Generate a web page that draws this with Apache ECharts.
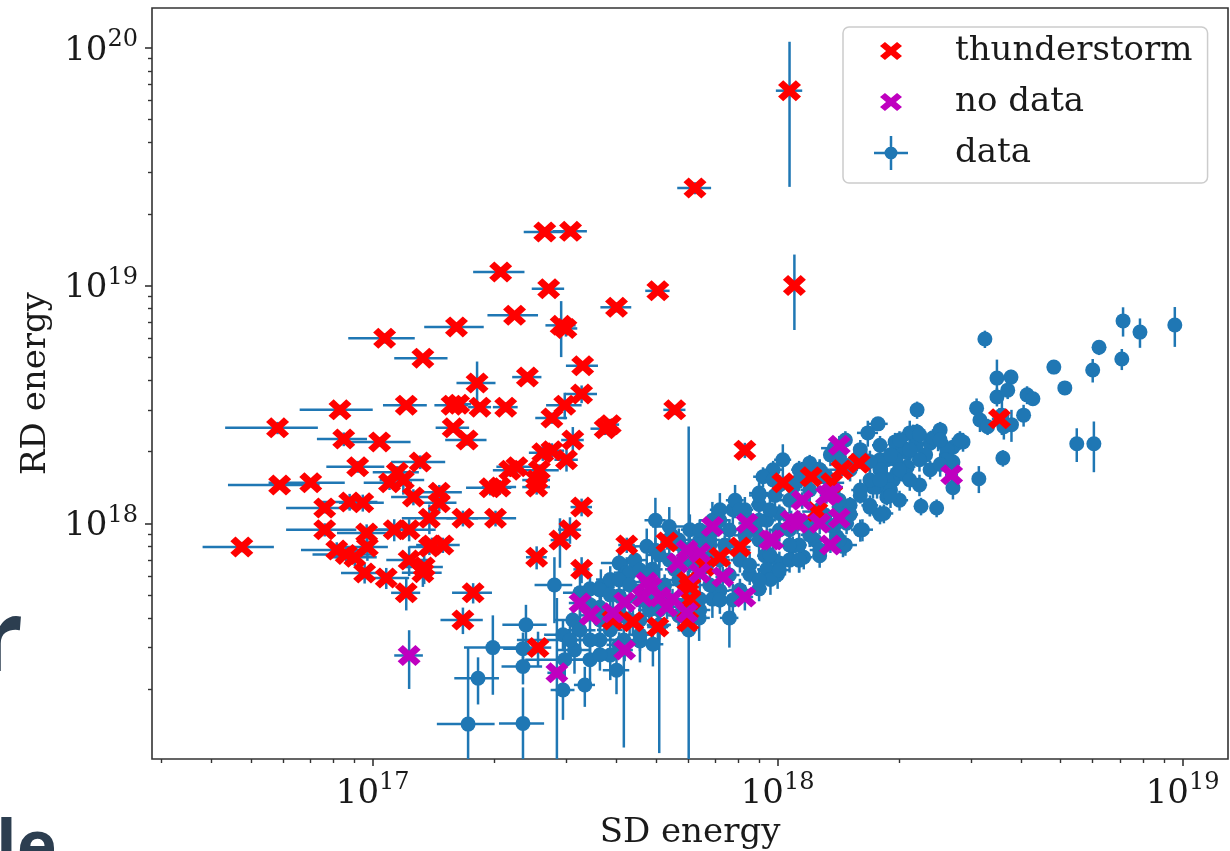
<!DOCTYPE html>
<html>
<head>
<meta charset="utf-8">
<script src="https://cdn.jsdelivr.net/npm/echarts@6/dist/echarts.min.js"></script>
<style>
html,body{margin:0;padding:0;background:#ffffff;}
#chart{width:1230px;height:851px;}
</style>
</head>
<body>
<div id="chart"></div>
<script>
// Each row: [SD energy, RD energy, SD error, RD error]
const thunderstorm = [
[1.07e18,6.6e19,0.08e18,4.0e19],[6.25e17,2.57e19,0.6e17,0.15e19],[1.10e18,1.0e19,0.03e18,0.35e19],
[2.66e17,1.68e19,0.3e17,0.08e19],[3.08e17,1.69e19,0.3e17,0.08e19],[2.07e17,1.14e19,0.3e17,0.05e19],
[2.72e17,9.7e18,0.25e17,0.4e18],[5.06e17,9.5e18,0.35e17,0.4e18],[4.0e17,8.1e18,0.35e17,0.4e18],
[2.24e17,7.5e18,0.32e17,0.3e18],[1.61e17,6.7e18,0.27e17,0.3e18],[2.92e17,6.8e18,0.25e17,1.8e18],
[3.0e17,6.6e18,0.2e17,0.5e18],[1.33e17,4.95e18,0.2e17,0.2e18],[1.07e17,6.0e18,0.2e17,0.3e18],
[3.3e17,4.6e18,0.3e17,0.2e18],[2.41e17,4.12e18,0.2e17,0.2e18],[1.81e17,3.89e18,0.2e17,0.9e18],
[3.28e17,3.5e18,0.3e17,0.3e18],[0.83e17,3.0e18,0.17e17,0.15e18],[1.21e17,3.14e18,0.15e17,0.15e18],
[1.57e17,3.14e18,0.15e17,0.15e18],[1.63e17,3.17e18,0.12e17,0.15e18],[1.84e17,3.08e18,0.12e17,0.15e18],
[2.13e17,3.08e18,0.15e17,0.15e18],[2.98e17,3.14e18,0.3e17,0.4e18],[2.77e17,2.77e18,0.25e17,0.15e18],
[3.75e17,2.5e18,0.3e17,0.15e18],[3.86e17,2.6e18,0.2e17,0.15e18],[5.57e17,3.0e18,0.35e17,0.15e18],
[8.3e17,2.03e18,0.2e17,0.15e18],[1.58e17,2.52e18,0.15e17,0.12e18],[1.71e17,2.24e18,0.2e17,0.12e18],
[0.582e17,2.52e18,0.15e17,0.15e18],[0.848e17,2.26e18,0.12e17,0.15e18],[1.04e17,2.2e18,0.2e17,0.1e18],
[1.31e17,1.81e18,0.2e17,0.12e18],[3.12e17,2.24e18,0.2e17,0.3e18],[2.63e17,1.98e18,0.2e17,0.15e18],
[2.77e17,2.02e18,0.2e17,0.15e18],[3.01e17,1.85e18,0.2e17,0.2e18],[2.27e17,1.73e18,0.25e17,0.1e18],
[2.18e17,1.67e18,0.2e17,0.1e18],[2.58e17,1.67e18,0.3e17,0.1e18],[2.54e17,1.52e18,0.2e17,0.1e18],
[1.95e17,1.41e18,0.25e17,0.1e18],[2.06e17,1.42e18,0.2e17,0.1e18],[2.54e17,1.42e18,0.2e17,0.1e18],
[1.46e17,1.35e18,0.2e17,0.1e18],[1.26e17,1.29e18,0.15e17,0.1e18],[1.46e17,1.22e18,0.15e17,0.1e18],
[3.28e17,1.17e18,0.2e17,0.1e18],[1.67e17,1.05e18,0.15e17,0.08e18],[2.01e17,1.05e18,0.25e17,0.08e18],
[1.38e17,1.05e18,0.2e17,0.15e18],[3.07e17,0.94e18,0.2e17,0.12e18],[2.9e17,0.85e18,0.15e17,0.2e18],
[1.49e17,0.81e18,0.15e17,0.06e18],[1.4e17,0.81e18,0.12e17,0.06e18],[4.24e17,0.81e18,0.2e17,0.06e18],
[1.23e17,0.94e18,0.2e17,0.1e18],[2.54e17,0.72e18,0.15e17,0.08e18],[3.28e17,0.64e18,0.15e17,0.08e18],
[1.23e17,0.7e18,0.15e17,0.1e18],[1.34e17,0.655e18,0.15e17,0.1e18],[0.703e17,1.48e18,0.15e17,0.06e18],
[0.589e17,1.45e18,0.15e17,0.06e18],[0.918e17,1.73e18,0.15e17,0.1e18],[1.15e17,1.64e18,0.15e17,0.1e18],
[1.10e17,1.48e18,0.15e17,0.1e18],[1.19e17,1.52e18,0.15e17,0.2e18],[0.761e17,1.16e18,0.15e17,0.06e18],
[0.877e17,1.23e18,0.15e17,0.1e18],[0.945e17,1.22e18,0.12e17,0.1e18],[0.761e17,0.94e18,0.15e17,0.06e18],
[0.966e17,0.91e18,0.15e17,0.08e18],[1.13e17,0.94e18,0.15e17,0.1e18],[0.475e17,0.795e18,0.095e17,0.04e18],
[0.815e17,0.772e18,0.15e17,0.06e18],[0.86e17,0.74e18,0.15e17,0.06e18],[0.903e17,0.72e18,0.12e17,0.06e18],
[0.97e17,0.795e18,0.12e17,0.1e18],[1.38e17,0.795e18,0.15e17,0.06e18],[0.955e17,0.618e18,0.12e17,0.06e18],
[1.08e17,0.589e18,0.15e17,0.06e18],[1.33e17,0.62e18,0.15e17,0.08e18],[1.21e17,0.51e18,0.1e17,0.08e18],
[1.77e17,0.51e18,0.2e17,0.05e18],[1.67e17,0.392e18,0.2e17,0.05e18],[2.56e17,0.30e18,0.2e17,0.05e18],
[5.33e17,0.835e18,0.2e17,0.06e18],[1.03e18,1.48e18,0.05e18,0.1e18],[8.07e17,0.795e18,0.5e17,0.08e18],
[7.2e17,0.72e18,0.4e17,0.08e18],[6.07e17,0.54e18,0.4e17,0.06e18],[4.39e17,0.385e18,0.3e17,0.05e18],
[3.92e17,0.392e18,0.3e17,0.05e18],[5.06e17,0.366e18,0.3e17,0.05e18],[6.0e17,0.385e18,0.3e17,0.05e18],
[6.07e17,0.476e18,0.3e17,0.05e18],[6.6e17,0.66e18,0.3e17,0.06e18],[6.0e17,0.57e18,0.3e17,0.06e18],
[1.21e18,1.57e18,0.1e18,0.1e18],[1.44e18,1.68e18,0.1e18,0.1e18],[1.36e18,1.48e18,0.1e18,0.1e18],
[1.59e18,1.79e18,0.1e18,0.1e18],[3.53e18,2.75e18,0.15e18,0.3e18],[1.25e18,1.12e18,0.1e18,0.1e18]
];

const noData = [
[1.23e17,2.78e17,0.1e17,0.77e17],[2.85e17,2.35e17,0.15e17,2.5e17],[4.19e17,2.93e17,0.2e17,0.3e17],
[3.25e17,4.62e17,0.2e17,0.5e17],[3.44e17,4.1e17,0.2e17,0.5e17],[4.19e17,4.66e17,0.2e17,0.5e17],
[3.92e17,4.2e17,0.2e17,0.5e17],[4.75e17,5.66e17,0.3e17,0.6e17],[5.12e17,4.9e17,0.3e17,0.6e17],
[5.67e17,6.81e17,0.3e17,0.6e17],[5.97e17,4.2e17,0.3e17,0.6e17],[5.97e17,7.72e17,0.3e17,0.6e17],
[6.42e17,6.18e17,0.3e17,0.6e17],[7.32e17,5.95e17,0.3e17,0.6e17],[8.3e17,4.9e17,0.4e17,0.6e17],
[8.4e17,1.0e18,0.4e17,0.1e18],[9.73e17,8.5e17,0.4e17,0.1e18],[1.08e18,1.03e18,0.05e18,0.1e18],
[5.33e17,4.45e17,0.3e17,0.5e17],[4.65e17,4.9e17,0.3e17,0.5e17],[6.42e17,7.5e17,0.3e17,0.6e17],
[1.42e18,2.13e18,0.05e18,0.2e18],[1.15e18,1.25e18,0.05e18,0.1e18],[1.32e18,1.31e18,0.05e18,0.1e18],
[1.36e18,1.34e18,0.05e18,0.1e18],[1.12e18,1.0e18,0.05e18,0.1e18],[1.27e18,1.0e18,0.05e18,0.1e18],
[1.42e18,1.05e18,0.05e18,0.1e18],[9.57e17,8.5e17,0.4e17,0.1e18],[1.35e18,8.1e17,0.05e18,0.06e18],
[2.69e18,1.6e18,0.1e18,0.15e18],[6.9e17,9.7e17,0.3e17,0.1e18],[4.87e17,5.4e17,0.3e17,0.5e17],
[5.5e17,4.8e17,0.3e17,0.5e17]
];

const dataPoints = [
[3.25e18,5.96e18,0.1e18,0.5e18],[7.13e18,7.1e18,0.2e18,1.0e18],[7.85e18,6.37e18,0.2e18,0.9e18],
[9.57e18,6.82e18,0.2e18,1.3e18],[6.22e18,5.5e18,0.15e18,0.4e18],[7.08e18,4.91e18,0.15e18,0.5e18],
[6.0e18,4.41e18,0.15e18,0.5e18],[4.81e18,4.54e18,0.15e18,0.3e18],[5.12e18,3.71e18,0.15e18,0.15e18],
[5.48e18,2.16e18,0.1e18,0.35e18],[6.04e18,2.16e18,0.1e18,0.52e18],[3.6e18,1.88e18,0.1e18,0.15e18],
[3.14e18,1.54e18,0.1e18,0.2e18],[2.71e18,1.41e18,0.1e18,0.15e18],[2.26e18,1.18e18,0.08e18,0.1e18],
[2.47e18,1.16e18,0.08e18,0.1e18],[3.48e18,4.08e18,0.1e18,0.8e18],[3.77e18,4.12e18,0.1e18,0.3e18],
[3.48e18,3.4e18,0.1e18,0.3e18],[3.7e18,3.63e18,0.1e18,0.3e18],[4.13e18,3.47e18,0.1e18,0.3e18],
[4.27e18,3.34e18,0.1e18,0.2e18],[4.05e18,2.85e18,0.1e18,0.3e18],[3.1e18,3.05e18,0.1e18,0.3e18],
[3.16e18,2.72e18,0.1e18,0.3e18],[3.58e18,2.85e18,0.1e18,0.5e18],[3.62e18,2.55e18,0.1e18,0.3e18],
[3.78e18,2.6e18,0.1e18,0.4e18],[3.3e18,2.55e18,0.1e18,0.2e18],[2.21e18,3.0e18,0.08e18,0.25e18],
[1.77e18,2.62e18,0.1e18,0.15e18],[1.38e18,2.07e18,0.1e18,0.2e18],[2.49e18,2.31e18,0.08e18,0.3e18],
[2.87e18,2.2e18,0.1e18,0.2e18],[2.71e18,2.09e18,0.1e18,0.2e18],[2.38e18,2.17e18,0.1e18,0.2e18],
[2.71e18,1.81e18,0.1e18,0.2e18],[2.62e18,1.98e18,0.1e18,0.2e18],[2.12e18,2.4e18,0.1e18,0.3e18],
[2.0e18,2.17e18,0.1e18,0.2e18],[2.21e18,2.42e18,0.1e18,0.2e18],[2.09e18,1.98e18,0.1e18,0.2e18],
[1.86e18,1.85e18,0.1e18,0.2e18],[1.93e18,1.52e18,0.1e18,0.15e18],[1.76e18,1.42e18,0.1e18,0.15e18],
[1.83e18,1.1e18,0.1e18,0.1e18],[1.62e18,0.94e18,0.1e18,0.1e18],[1.47e18,0.81e18,0.1e18,0.08e18],
[1.42e18,1.1e18,0.1e18,0.1e18],[1.35e18,1.42e18,0.1e18,0.15e18],[1.97e18,1.62e18,0.1e18,0.15e18],
[2.09e18,1.73e18,0.1e18,0.15e18],[1.67e18,2.4e18,0.1e18,0.3e18],[2.16e18,2.4e18,0.1e18,0.2e18],
[2.03e18,2.09e18,0.1e18,0.2e18],[2.42e18,2.29e18,0.1e18,0.2e18],[2.82e18,2.24e18,0.1e18,0.2e18],
[2.62e18,2.04e18,0.1e18,0.2e18],[9.75e17,1.68e18,0.5e17,0.15e18],[1.03e18,1.85e18,0.05e18,0.3e18],
[1.2e18,1.79e18,0.06e18,0.15e18],[1.42e18,1.9e18,0.06e18,0.15e18],[1.49e18,1.73e18,0.06e18,0.15e18],
[1.79e18,1.85e18,0.06e18,0.15e18],[1.86e18,1.52e18,0.06e18,0.15e18],[1.72e18,1.42e18,0.06e18,0.15e18],
[1.86e18,1.29e18,0.06e18,0.1e18],[1.69e18,1.17e18,0.06e18,0.1e18],[1.42e18,1.17e18,0.06e18,0.1e18],
[1.48e18,1.0e18,0.06e18,0.1e18],[1.4e18,0.88e18,0.06e18,0.08e18],[1.45e18,0.8e18,0.06e18,0.08e18],
[1.16e18,0.72e18,0.06e18,0.08e18],[1.09e18,0.8e18,0.06e18,0.08e18],[1.01e18,0.68e18,0.06e18,0.08e18],
[9.4e17,0.64e18,0.5e17,0.08e18],[1.2e18,0.96e18,0.06e18,0.1e18],[1.01e18,1.1e18,0.06e18,0.1e18],
[9.4e17,1.03e18,0.5e17,0.1e18],[9.2e17,1.57e18,0.5e17,0.15e18],[1.09e18,1.42e18,0.06e18,0.15e18],
[1.32e18,1.57e18,0.06e18,0.15e18],[1.6e18,2.04e18,0.06e18,0.2e18],[1.95e18,2.2e18,0.06e18,0.2e18],
[9.75e17,1.52e18,0.5e17,0.15e18],[9.0e17,1.34e18,0.5e17,0.15e18],[7.75e17,1.14e18,0.5e17,0.15e18],
[6.9e17,1.03e18,0.5e17,0.2e18],[5.4e17,0.97e18,0.5e17,0.2e18],[4.75e17,0.8e18,0.4e17,0.15e18],
[4.06e17,0.68e18,0.4e17,0.1e18],[3.25e17,0.51e18,0.3e17,0.1e18],[3.66e17,0.54e18,0.3e17,0.1e18],
[4.24e17,0.62e18,0.3e17,0.1e18],[4.9e17,0.64e18,0.3e17,0.1e18],[5.7e17,0.82e18,0.4e17,0.1e18],
[6.6e17,0.82e18,0.4e17,0.1e18],[6.9e17,0.72e18,0.4e17,0.1e18],[6.9e17,0.48e18,0.4e17,0.08e18],
[7.6e17,0.4e18,0.4e17,0.1e18],[6.4e17,0.4e18,0.4e17,0.08e18],[6.03e17,0.356e18,0.3e17,2.2e18],
[5.1e17,4.32e17,0.3e17,3.24e17],[4.17e17,3.23e17,0.3e17,2.09e17],[1.72e17,1.43e17,0.28e17,1.57e17],
[2.35e17,1.44e17,0.3e17,0.6e17],[1.82e17,2.23e17,0.23e17,0.5e17],[1.98e17,3.0e17,0.3e17,1.1e17],
[2.39e17,3.74e17,0.3e17,0.8e17],[2.35e17,2.97e17,0.25e17,0.5e17],[2.35e17,2.5e17,0.27e17,0.4e17],
[2.81e17,5.5e17,0.3e17,1.7e17],[2.95e17,1.99e17,0.2e17,0.5e17],[3.34e17,2.09e17,0.2e17,0.4e17],
[4.0e17,2.41e17,0.3e17,0.5e17],[2.95e17,3.4e17,0.3e17,0.5e17],[3.64e17,3.23e17,0.3e17,0.5e17],
[4.92e17,3.1e17,0.3e17,0.6e17],[7.75e17,4.76e17,0.4e17,0.8e17],[5.97e17,4.6e17,0.3e17,0.5e17],
[4.31e17,6.18e17,0.3e17,0.8e17],[3.12e17,3.92e17,0.3e17,0.5e17],[3.64e17,4.43e17,0.3e17,0.5e17],
[4.06e17,4.95e17,0.3e17,0.5e17],[4.57e17,3.92e17,0.3e17,0.5e17],[4.82e17,4.76e17,0.3e17,0.5e17],
[5.26e17,5.5e17,0.3e17,0.6e17],[5.57e17,6.4e17,0.3e17,0.6e17],[6.07e17,7.0e17,0.4e17,0.8e17],
[6.42e17,8.5e17,0.4e17,1.0e17],[7.0e17,9.4e17,0.4e17,1.0e17],[7.4e17,8.1e17,0.4e17,0.8e17],
[8.07e17,7.0e17,0.4e17,0.8e17],[8.53e17,6.1e17,0.4e17,0.6e17],[9.0e17,5.3e17,0.4e17,0.6e17],
[9.3e17,7.3e17,0.4e17,0.8e17],[8.8e17,9.4e17,0.4e17,1.0e17],[8.3e17,1.14e18,0.4e17,0.15e18],
[9.0e17,1.2e18,0.4e17,0.15e18],[1.07e18,0.94e18,0.05e18,0.1e18],[1.13e18,0.81e18,0.05e18,0.1e18],
[1.235e18,0.85e18,0.05e18,0.1e18],[1.31e18,1.08e18,0.05e18,0.1e18],[1.38e18,0.98e18,0.05e18,0.1e18],
[1.51e18,1.19e18,0.05e18,0.1e18],[1.6e18,1.31e18,0.05e18,0.1e18],[1.69e18,1.52e18,0.05e18,0.15e18],
[1.79e18,1.68e18,0.05e18,0.15e18],[1.9e18,1.38e18,0.05e18,0.15e18],[1.96e18,1.85e18,0.05e18,0.15e18],
[2.07e18,1.6e18,0.05e18,0.15e18],[2.2e18,2.13e18,0.05e18,0.2e18],[2.32e18,1.94e18,0.05e18,0.2e18],
[2.38e18,1.68e18,0.05e18,0.15e18],[2.52e18,2.47e18,0.08e18,0.2e18],[2.6e18,1.85e18,0.08e18,0.2e18],
[1.27e18,1.68e18,0.05e18,0.15e18],[1.35e18,1.94e18,0.05e18,0.2e18],[1.47e18,2.24e18,0.05e18,0.2e18],
[1.13e18,1.68e18,0.05e18,0.15e18],[9.85e17,1.31e18,0.5e17,0.15e18],[9.0e17,1.03e18,0.5e17,0.1e18],
[8.3e17,0.89e18,0.5e17,0.1e18],[6.8e17,0.81e18,0.4e17,0.1e18],[6.6e17,0.67e18,0.4e17,0.1e18],
[7.2e17,0.52e18,0.4e17,0.08e18],[6.42e17,0.48e18,0.4e17,0.08e18],[5.7e17,0.41e18,0.3e17,0.06e18],
[5.1e17,0.37e18,0.3e17,0.06e18],[4.57e17,0.32e18,0.3e17,0.06e18],[3.86e17,0.279e18,0.3e17,0.06e18],
[3.44e17,0.267e18,0.3e17,0.06e18],[3.15e17,0.293e18,0.3e17,0.06e18],[3.25e17,0.355e18,0.3e17,0.06e18],
[3.44e17,0.53e18,0.3e17,0.08e18],[3.86e17,0.58e18,0.3e17,0.08e18],[4.44e17,0.7e18,0.3e17,0.1e18],
[4.99e17,0.77e18,0.3e17,0.1e18],[5.47e17,0.89e18,0.3e17,0.1e18],[6.07e17,0.94e18,0.3e17,0.15e18],
[4.99e17,1.03e18,0.3e17,0.25e18],[7.85e17,1.25e18,0.4e17,0.2e18],[7.2e17,1.14e18,0.4e17,0.2e18],
[1.0e18,0.61e18,0.05e18,0.08e18],[1.07e18,0.7e18,0.05e18,0.08e18],[9.6e17,0.58e18,0.4e17,0.08e18],
[1.13e18,0.7e18,0.05e18,0.08e18],[1.27e18,0.73e18,0.05e18,0.08e18],[3.07e17,3.23e17,0.8e17,0.5e17],
[2.98e17,2.67e17,0.6e17,0.5e17],
[3.64e17,0.524e18,0.25e17,0.06e18],[3.64e17,0.392e18,0.25e17,0.05e18],[3.64e17,0.28e18,0.25e17,0.04e18],
[4.06e17,0.577e18,0.28e17,0.07e18],[4.06e17,0.42e18,0.28e17,0.05e18],[4.06e17,0.308e18,0.28e17,0.04e18],
[4.57e17,0.636e18,0.3e17,0.07e18],[4.57e17,0.476e18,0.3e17,0.06e18],[4.57e17,0.34e18,0.3e17,0.05e18],
[5.1e17,0.736e18,0.35e17,0.08e18],[5.1e17,0.524e18,0.35e17,0.06e18],[5.1e17,0.374e18,0.35e17,0.05e18],
[5.7e17,0.851e18,0.4e17,0.1e18],[5.7e17,0.577e18,0.4e17,0.07e18],[5.7e17,0.41e18,0.4e17,0.05e18],
[6.42e17,0.937e18,0.4e17,0.1e18],[6.42e17,0.636e18,0.4e17,0.07e18],[6.42e17,0.432e18,0.4e17,0.05e18],
[7.2e17,1.03e18,0.45e17,0.12e18],[7.2e17,0.701e18,0.45e17,0.08e18],[7.2e17,0.476e18,0.45e17,0.06e18],
[8.07e17,1.14e18,0.5e17,0.12e18],[8.07e17,0.772e18,0.5e17,0.08e18],[8.07e17,0.524e18,0.5e17,0.06e18],
[9.0e17,1.31e18,0.5e17,0.15e18],[9.0e17,0.851e18,0.5e17,0.1e18],[9.0e17,0.577e18,0.5e17,0.07e18],
[1.01e18,1.45e18,0.06e18,0.15e18],[1.01e18,0.937e18,0.06e18,0.1e18],[1.01e18,0.636e18,0.06e18,0.07e18],
[1.13e18,1.52e18,0.06e18,0.15e18],[1.13e18,1.03e18,0.06e18,0.1e18],[1.13e18,0.701e18,0.06e18,0.08e18],
[1.27e18,1.68e18,0.07e18,0.18e18],[1.27e18,1.14e18,0.07e18,0.12e18],[1.27e18,0.772e18,0.07e18,0.08e18],
[1.42e18,1.85e18,0.07e18,0.2e18],[1.42e18,1.25e18,0.07e18,0.12e18],[1.42e18,0.851e18,0.07e18,0.1e18],
[1.6e18,1.94e18,0.08e18,0.2e18],[1.6e18,1.38e18,0.08e18,0.15e18],[1.6e18,0.937e18,0.08e18,0.1e18],
[1.79e18,2.13e18,0.08e18,0.2e18],[1.79e18,1.52e18,0.08e18,0.15e18],[1.79e18,1.09e18,0.08e18,0.1e18],
[2.0e18,2.24e18,0.1e18,0.2e18],[2.0e18,1.68e18,0.1e18,0.15e18],[2.0e18,1.25e18,0.1e18,0.12e18],
[2.24e18,2.36e18,0.1e18,0.2e18],[2.24e18,1.85e18,0.1e18,0.2e18],[2.24e18,1.45e18,0.1e18,0.15e18],
[2.52e18,2.24e18,0.1e18,0.2e18],[2.52e18,1.77e18,0.1e18,0.2e18],
[3.44e17,0.454e18,0.25e17,0.05e18],[3.44e17,0.323e18,0.25e17,0.04e18],[3.86e17,0.5e18,0.28e17,0.06e18],
[3.86e17,0.356e18,0.28e17,0.05e18],[4.31e17,0.55e18,0.3e17,0.06e18],[4.31e17,0.392e18,0.3e17,0.05e18],
[4.82e17,0.606e18,0.3e17,0.07e18],[4.82e17,0.432e18,0.3e17,0.05e18],[5.4e17,0.701e18,0.35e17,0.08e18],
[5.4e17,0.476e18,0.35e17,0.06e18],[6.07e17,0.772e18,0.4e17,0.08e18],[6.07e17,0.5e18,0.4e17,0.06e18],
[6.8e17,0.851e18,0.4e17,0.1e18],[6.8e17,0.55e18,0.4e17,0.06e18],[7.6e17,0.937e18,0.45e17,0.1e18],
[7.6e17,0.606e18,0.45e17,0.07e18],[8.53e17,1.03e18,0.5e17,0.12e18],[8.53e17,0.668e18,0.5e17,0.08e18],
[9.57e17,1.14e18,0.5e17,0.12e18],[9.57e17,0.736e18,0.5e17,0.08e18],[1.07e18,1.25e18,0.06e18,0.15e18],
[1.07e18,0.81e18,0.06e18,0.1e18],[1.2e18,1.38e18,0.06e18,0.15e18],[1.2e18,0.894e18,0.06e18,0.1e18],
[1.35e18,1.52e18,0.07e18,0.15e18],[1.35e18,0.98e18,0.07e18,0.1e18],[1.51e18,1.68e18,0.07e18,0.18e18],
[1.51e18,1.09e18,0.07e18,0.12e18],[1.69e18,1.82e18,0.08e18,0.2e18],[1.69e18,1.19e18,0.08e18,0.12e18],
[1.9e18,1.94e18,0.08e18,0.2e18],[1.9e18,1.31e18,0.08e18,0.15e18],[2.12e18,2.04e18,0.1e18,0.2e18],
[2.12e18,1.52e18,0.1e18,0.15e18]
];

// axis ranges (energies) and decade tick exponents
const xRange = [2.85e16, 1.295e19];
const yRange = [1.02e17, 1.47e20];
const xTickExponents = [17, 18, 19];
const yTickExponents = [18, 19, 20];
const minorMantissas = [2, 3, 4, 5, 6, 7, 8, 9];

const L = Math.log10;
const xMin = L(xRange[0]), xMax = L(xRange[1]);
const yMin = L(yRange[0]), yMax = L(yRange[1]);

function minorTicks(lo, hi) {
  const out = [];
  for (let d = Math.floor(lo) - 1; d <= Math.ceil(hi); d++) {
    minorMantissas.forEach(m => { const v = d + L(m); if (v > lo && v < hi) out.push(v); });
  }
  return out;
}

function toLog(p) { return [L(p[0]), L(p[1])]; }
function toBars(p) {
  const lo = (v, e, fallback) => (v - e > 0 ? L(v - e) : fallback);
  return [L(p[0]), L(p[1]), lo(p[0], p[2], xMin - 1), L(p[0] + p[2]), lo(p[1], p[3], yMin - 1), L(p[1] + p[3])];
}

const BLUE = '#1f77b4', RED = '#ff0000', MAG = '#bf00bf';
const SERIF = 'DejaVu Serif';
const TXT = '#1a1a1a';

// thick "x" marker polygon in a 20x20 box
const xPoly = [[4.5,0],[10,5.5],[15.5,0],[20,4.5],[14.5,10],[20,15.5],[15.5,20],[10,14.5],[4.5,20],[0,15.5],[5.5,10],[0,4.5]];
function polyPath(pts, sx, sy, ox, oy) {
  return pts.map((q, i) => (i ? 'L' : 'M') + (ox + q[0] * sx).toFixed(2) + ',' + (oy + q[1] * sy).toFixed(2)).join(' ') + ' Z';
}
const xSymbol = 'path://' + polyPath(xPoly, 1, 1, 0, 0);
const pad34 = 'M0,0 L0.01,0 L0,0.01 Z M34,34 L33.99,34 L34,33.99 Z ';
const xLegendIcon = 'path://' + pad34 + polyPath(xPoly, 1.1, 0.9, 6, 8);
const dataLegendIcon = 'path://M0,15.75 L34,15.75 L34,18.25 L0,18.25 Z M15.75,0 L18.25,0 L18.25,34 L15.75,34 Z M23.5,17 A6.5,6.5 0 1,1 10.5,17 A6.5,6.5 0 1,1 23.5,17 Z';

const allPoints = dataPoints.concat(thunderstorm, noData);

const supRich = {
  b: { fontFamily: SERIF, fontSize: 34, lineHeight: 40, verticalAlign: 'bottom', color: TXT },
  s: { fontFamily: SERIF, fontSize: 24, lineHeight: 26, verticalAlign: 'top', color: TXT }
};
const expFmt = v => '{b|10}{s|' + Math.round(v) + '}';

const axisCommon = { type: 'value', splitLine: { show: false }, axisLine: { show: false } };

const chart = echarts.init(document.getElementById('chart'), null, { renderer: 'canvas' });
chart.setOption({
  animation: false,
  backgroundColor: '#ffffff',
  grid: { left: 152, top: 8, width: 1076, height: 751, show: true, borderColor: '#333333', borderWidth: 1.6, backgroundColor: 'transparent', containLabel: false, outerBoundsMode: 'none' },
  xAxis: [
    Object.assign({}, axisCommon, {
      min: xMin, max: xMax, position: 'bottom',
      axisTick: { show: true, customValues: xTickExponents, length: 7, lineStyle: { color: '#333', width: 1.6 } },
      axisLabel: { show: true, customValues: xTickExponents, formatter: expFmt, rich: supRich, margin: 12 },
      name: 'SD energy', nameLocation: 'middle', nameGap: 50,
      nameTextStyle: { fontFamily: SERIF, fontSize: 34, color: TXT }
    }),
    Object.assign({}, axisCommon, {
      min: xMin, max: xMax, position: 'bottom',
      axisTick: { show: true, customValues: minorTicks(xMin, xMax), length: 4, lineStyle: { color: '#333', width: 1.4 } },
      axisLabel: { show: false }
    })
  ],
  yAxis: [
    Object.assign({}, axisCommon, {
      min: yMin, max: yMax, position: 'left',
      axisTick: { show: true, customValues: yTickExponents, length: 7, lineStyle: { color: '#333', width: 1.6 } },
      axisLabel: { show: true, customValues: yTickExponents, formatter: expFmt, rich: supRich, margin: 14 },
      name: 'RD energy', nameLocation: 'middle', nameGap: 87, nameRotate: 90,
      nameTextStyle: { fontFamily: SERIF, fontSize: 34, color: TXT }
    }),
    Object.assign({}, axisCommon, {
      min: yMin, max: yMax, position: 'left',
      axisTick: { show: true, customValues: minorTicks(yMin, yMax), length: 4, lineStyle: { color: '#333', width: 1.4 } },
      axisLabel: { show: false }
    })
  ],
  legend: {
    left: 843, top: 27, orient: 'vertical', itemWidth: 34, itemHeight: 34, itemGap: 17,
    padding: [7, 15, 13, 31],
    backgroundColor: 'rgba(255,255,255,0.8)', borderColor: '#cccccc', borderWidth: 1.5, borderRadius: 6,
    selectedMode: false,
    data: [
      { name: 'thunderstorm', icon: xLegendIcon },
      { name: 'no data', icon: xLegendIcon },
      { name: 'data', icon: dataLegendIcon }
    ],
    formatter: n => '{p|}{t|' + n + '}',
    textStyle: { rich: { p: { width: 42 }, t: { fontFamily: SERIF, fontSize: 34, lineHeight: 40, color: TXT } } }
  },
  graphic: [
    { type: 'text', x: 23, y: 594, style: { text: 'r', font: 'bold 98px "Open Sans"', fill: '#2c3e50', align: 'right', verticalAlign: 'top' } },
    { type: 'text', x: -4, y: 816, style: { text: 'le', font: 'bold 68px "Open Sans"', fill: '#2c3e50', align: 'left', verticalAlign: 'top' } }
  ],
  series: [
    {
      type: 'custom', name: 'error bars', silent: true, clip: true, z: 2,
      data: allPoints.map(toBars),
      renderItem: function (params, api) {
        const x = api.value(0), y = api.value(1);
        const a = api.coord([api.value(2), y]), b = api.coord([api.value(3), y]);
        const c = api.coord([x, api.value(4)]), d = api.coord([x, api.value(5)]);
        const st = { stroke: BLUE, lineWidth: 2.5, lineCap: 'butt' };
        return { type: 'group', children: [
          { type: 'line', shape: { x1: a[0], y1: a[1], x2: b[0], y2: b[1] }, style: st },
          { type: 'line', shape: { x1: c[0], y1: c[1], x2: d[0], y2: d[1] }, style: st }
        ] };
      }
    },
    { type: 'scatter', name: 'data', silent: true, z: 3, symbol: 'circle', symbolSize: 15,
      itemStyle: { color: BLUE, opacity: 1 }, data: dataPoints.map(toLog) },
    { type: 'scatter', name: 'thunderstorm', silent: true, z: 4, symbol: xSymbol, symbolSize: [23, 21], symbolKeepAspect: false,
      itemStyle: { color: RED, opacity: 1 }, data: thunderstorm.map(toLog) },
    { type: 'scatter', name: 'no data', silent: true, z: 5, symbol: xSymbol, symbolSize: [23, 21], symbolKeepAspect: false,
      itemStyle: { color: MAG, opacity: 1 }, data: noData.map(toLog) }
  ]
});
</script>
</body>
</html>
